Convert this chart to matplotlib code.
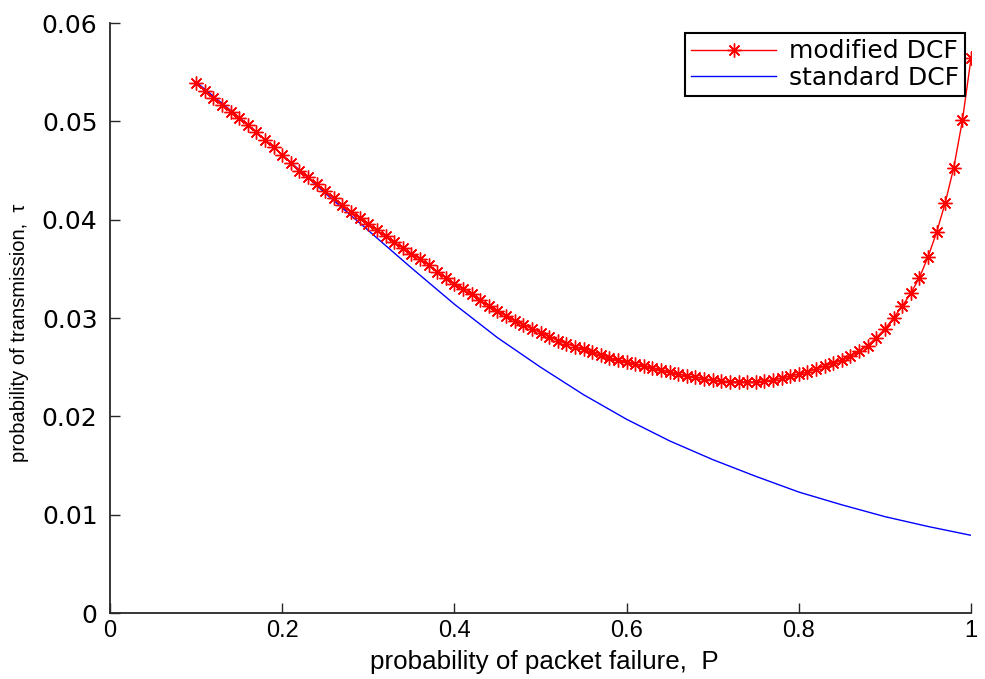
import matplotlib
matplotlib.use("Agg")
import matplotlib.pyplot as plt

# ---------------- data ----------------
p_modified = [0.10, 0.11, 0.12, 0.13, 0.14, 0.15, 0.16, 0.17, 0.18, 0.19,
              0.20, 0.21, 0.22, 0.23, 0.24, 0.25, 0.26, 0.27, 0.28, 0.29,
              0.30, 0.31, 0.32, 0.33, 0.34, 0.35, 0.36, 0.37, 0.38, 0.39,
              0.40, 0.41, 0.42, 0.43, 0.44, 0.45, 0.46, 0.47, 0.48, 0.49,
              0.50, 0.51, 0.52, 0.53, 0.54, 0.55, 0.56, 0.57, 0.58, 0.59,
              0.60, 0.61, 0.62, 0.63, 0.64, 0.65, 0.66, 0.67, 0.68, 0.69,
              0.70, 0.71, 0.72, 0.73, 0.74, 0.75, 0.76, 0.77, 0.78, 0.79,
              0.80, 0.81, 0.82, 0.83, 0.84, 0.85, 0.86, 0.87, 0.88, 0.89,
              0.90, 0.91, 0.92, 0.93, 0.94, 0.95, 0.96, 0.97, 0.98, 0.99,
              1.00]
tau_modified = [0.0539, 0.0531, 0.0524, 0.0517, 0.0510, 0.0503, 0.0496, 0.0489, 0.0481, 0.0474,
                0.0466, 0.0458, 0.0450, 0.0443, 0.0436, 0.0429, 0.0422, 0.0415, 0.0408, 0.0402,
                0.0396, 0.0389, 0.0383, 0.0377, 0.0371, 0.0365, 0.0360, 0.0354, 0.0347, 0.0341,
                0.0335, 0.0329, 0.0324, 0.0318, 0.0312, 0.0307, 0.0302, 0.0297, 0.0293, 0.0289,
                0.0285, 0.0281, 0.0277, 0.0274, 0.0271, 0.0268, 0.0265, 0.0262, 0.0259, 0.0257,
                0.0255, 0.0253, 0.0251, 0.0249, 0.0247, 0.0245, 0.0243, 0.0241, 0.0240, 0.0238,
                0.0237, 0.0236, 0.0235, 0.0235, 0.0235, 0.0235, 0.0236, 0.0237, 0.0239, 0.0241,
                0.0243, 0.0245, 0.0248, 0.0251, 0.0254, 0.0257, 0.0261, 0.0266, 0.0272, 0.0280,
                0.0289, 0.0300, 0.0312, 0.0325, 0.0341, 0.0362, 0.0387, 0.0417, 0.0453, 0.0501,
                0.0564]

p_standard = [0.10, 0.15, 0.20, 0.25, 0.30, 0.35, 0.40, 0.45, 0.50, 0.55,
              0.60, 0.65, 0.70, 0.75, 0.80, 0.85, 0.90, 0.95, 1.00]
tau_standard = [0.0540, 0.0504, 0.0466, 0.0427, 0.0389, 0.0351, 0.0314, 0.0280, 0.0250, 0.0222,
                0.0197, 0.0175, 0.0156, 0.0139, 0.0123, 0.0110, 0.0098, 0.0088, 0.0079]

x_ticks = [0, 0.2, 0.4, 0.6, 0.8, 1]
x_tick_labels = ["0", "0.2", "0.4", "0.6", "0.8", "1"]
y_ticks = [0, 0.01, 0.02, 0.03, 0.04, 0.05, 0.06]
y_tick_labels = ["0", "0.01", "0.02", "0.03", "0.04", "0.05", "0.06"]

series_labels = ["modified DCF", "standard DCF"]
x_label = "probability of packet failure,  P"
y_label = "probability of transmission,  \u03c4"

# ---------------- fonts ----------------
plt.rcParams["font.family"] = ["Liberation Sans", "DejaVu Sans"]

# ---------------- figure ----------------
fig = plt.figure(figsize=(9.85, 6.79), dpi=100)
ax = fig.add_axes([0.1117, 0.0972, 0.8741, 0.8689])

ax.plot(p_modified, tau_modified, color="#ff0000", lw=1.0,
        marker=(8, 2, 0), markersize=10, markeredgewidth=1.0,
        label=series_labels[0], zorder=3)
ax.plot(p_standard, tau_standard, color="#0000ff", lw=1.0,
        label=series_labels[1], zorder=2)

ax.set_xlim(0, 1)
ax.set_ylim(0, 0.06)
ax.set_xticks(x_ticks)
ax.set_xticklabels(x_tick_labels, family=["Liberation Sans", "DejaVu Sans"], fontsize=17)
ax.set_yticks(y_ticks)
ax.set_yticklabels(y_tick_labels, family=["DejaVu Sans"], fontsize=18)

for side in ("top", "right"):
    ax.spines[side].set_visible(False)
for side in ("left", "bottom"):
    ax.spines[side].set_color("#262626")
    ax.spines[side].set_linewidth(1.3)
ax.tick_params(direction="in", length=7, width=1.0, color="#262626",
               labelcolor="#000000")
ax.tick_params(axis="y", pad=9)
ax.tick_params(axis="x", pad=5)

ax.set_xlabel(x_label, family=["Liberation Sans", "DejaVu Sans"], fontsize=18.7)
ax.xaxis.set_label_coords(0.504, -0.062)
ax.set_ylabel(y_label, family=["Liberation Sans", "DejaVu Sans"], fontsize=14.5)
ax.yaxis.set_label_coords(-0.094, 0.475)

leg = ax.legend(loc="upper right", bbox_to_anchor=(0.993, 0.983),
                prop={"family": ["DejaVu Sans"], "size": 18},
                fancybox=False, edgecolor="#000000", framealpha=1,
                borderpad=0.25, labelspacing=0.1, handlelength=3.4,
                handletextpad=0.5, borderaxespad=0.0)
leg.get_frame().set_linewidth(1.5)

fig.savefig("out.png", dpi=100)
